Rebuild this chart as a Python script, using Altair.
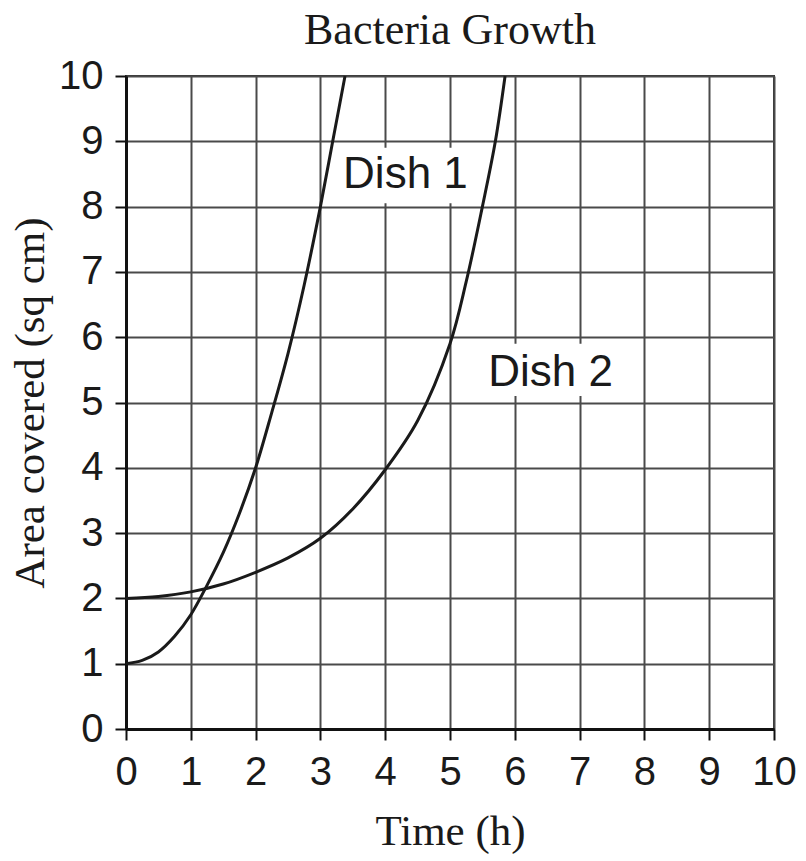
import altair as alt
import pandas as pd

# ---- data ----
dish1_time = [0, 0.25, 0.5, 0.75, 1.0, 1.25, 1.5, 1.75, 2.0, 2.25, 2.5, 2.75, 3.0, 3.19, 3.38]
dish1_area = [1.0, 1.05, 1.18, 1.42, 1.75, 2.2, 2.7, 3.3, 4.0, 4.85, 5.75, 6.8, 8.0, 9.0, 10.0]

dish2_time = [0, 0.5, 1.0, 1.5, 2.0, 2.5, 3.0, 3.5, 4.0, 4.5, 5.0, 5.25, 5.5, 5.7, 5.85]
dish2_area = [2.0, 2.03, 2.1, 2.22, 2.4, 2.62, 2.92, 3.37, 3.97, 4.72, 5.9, 6.85, 8.0, 9.0, 10.0]

tick_values = list(range(11))
label_names = ["Dish 1", "Dish 2"]
label_time = [3.35, 5.59]
label_area = [8.48, 5.45]
box_x1 = [3.25, 5.45]
box_x2 = [5.35, 7.7]
box_y1 = [8.05, 5.1]
box_y2 = [8.9, 5.9]

title_text = "Bacteria Growth"
x_title = "Time (h)"
y_title = "Area covered (sq cm)"

lines_df = pd.concat([
    pd.DataFrame({"time": dish1_time, "area": dish1_area, "dish": "Dish 1"}),
    pd.DataFrame({"time": dish2_time, "area": dish2_area, "dish": "Dish 2"}),
])
labels_df = pd.DataFrame({"name": label_names, "time": label_time, "area": label_area,
                          "x1": box_x1, "x2": box_x2, "y1": box_y1, "y2": box_y2})

xscale = alt.Scale(domain=[0, 10], nice=False)
yscale = alt.Scale(domain=[0, 10], nice=False)

x_axis = alt.Axis(values=tick_values, format="d", title=x_title, titlePadding=18)
y_axis = alt.Axis(values=tick_values, format="d", title=y_title, titlePadding=6)

boxes = alt.Chart(labels_df).mark_rect(color="white").encode(
    x=alt.X("x1:Q", scale=xscale, axis=x_axis),
    x2="x2:Q",
    y=alt.Y("y1:Q", scale=yscale, axis=y_axis),
    y2="y2:Q",
)

lines = alt.Chart(lines_df).mark_line(color="#1a1a1a", strokeWidth=3, interpolate="catmull-rom").encode(
    x=alt.X("time:Q", scale=xscale),
    y=alt.Y("area:Q", scale=yscale),
    detail="dish:N",
)

texts = alt.Chart(labels_df).mark_text(
    align="left", baseline="middle", font="Liberation Sans", fontSize=44, color="#1a1a1a"
).encode(
    x=alt.X("time:Q", scale=xscale),
    y=alt.Y("area:Q", scale=yscale),
    text="name:N",
)

chart = alt.layer(boxes, lines, texts).properties(
    width=648,
    height=653,
    title=alt.TitleParams(title_text, font="Liberation Serif", fontSize=44, fontWeight="normal",
                          color="#1a1a1a", anchor="middle", offset=3),
    autosize=alt.AutoSizeParams(type="none"),
    padding={"left": 118, "top": 68, "right": 24, "bottom": 130},
).configure_axis(
    grid=True,
    gridColor="#4a4a4a",
    gridWidth=2,
    gridOpacity=1,
    domainColor="#111111",
    domainWidth=3,
    tickColor="#111111",
    tickWidth=2,
    tickSize=11,
    labelFont="Liberation Sans",
    labelFontSize=40,
    labelColor="#1a1a1a",
    labelPadding=12,
    labelFlush=False,
    labelOverlap=False,
    titleFont="Liberation Serif",
    titleFontSize=43,
    titleFontWeight="normal",
    titleColor="#1a1a1a",
).configure_view(stroke="#333333", strokeWidth=2)

chart.save("out.html", embed_options={"renderer": "svg", "actions": False})
